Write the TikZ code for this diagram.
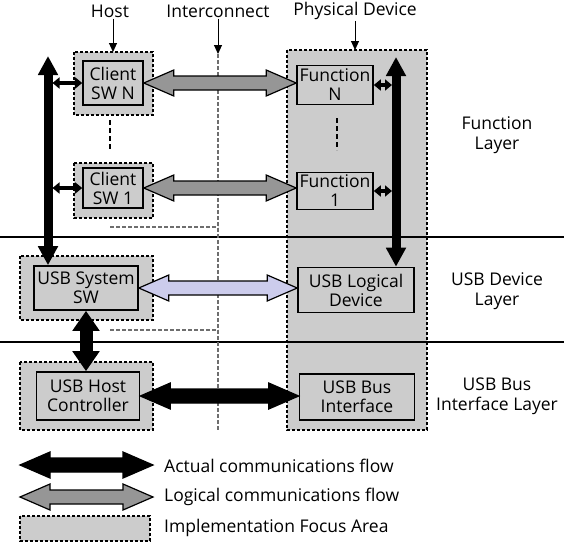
\documentclass[tikz,border=0pt]{standalone}
\usepackage{fontspec}
\setmainfont{Open Sans}
\usetikzlibrary{arrows.meta,calc}

\definecolor{focusgray}{RGB}{204,204,204}
\definecolor{flowgray}{RGB}{150,150,150}
\definecolor{flowlav}{RGB}{204,204,236}
\definecolor{linkgray}{RGB}{110,110,110}

\tikzset{
  focus/.style={draw=black, fill=focusgray, line width=1.4pt, dash pattern=on 3pt off 2pt},
  block/.style={draw=black, fill=focusgray, line width=1.6pt, align=center, inner sep=0pt,
    font=\fontsize{17.5}{19}\selectfont},
  label/.style={align=center, inner sep=1pt, font=\fontsize{17.5}{20}\selectfont},
  hdr/.style={line width=1pt, -{Triangle[length=9pt,width=8pt]}},
  link/.style={draw=linkgray, line width=1.3pt, dash pattern=on 4pt off 2pt},
  dots/.style={line width=1.6pt, dash pattern=on 5pt off 3pt},
  layer/.style={line width=1.2pt},
  bus/.style={line width=9pt, {Triangle[length=19pt,width=19pt]}-{Triangle[length=19pt,width=19pt]}},
  tap/.style={line width=4pt, {Triangle[length=7pt,width=11pt]}-{Triangle[length=7pt,width=11pt]}},
  fatbus/.style={line width=13pt, {Triangle[length=20pt,width=26pt]}-{Triangle[length=20pt,width=26pt]}},
}

% fat double arrow, horizontal, outlined
\newcommand{\flow}[3]{%
  \filldraw[line width=1.2pt, #1] let \p1=(#2), \p2=(#3) in
    (\x1,\y1) -- (\x1+30pt,\y1+13pt) -- (\x1+30pt,\y1+7pt) -- (\x2-30pt,\y1+7pt)
    -- (\x2-30pt,\y1+13pt) -- (\x2,\y1) -- (\x2-30pt,\y1-13pt) -- (\x2-30pt,\y1-7pt)
    -- (\x1+30pt,\y1-7pt) -- (\x1+30pt,\y1-13pt) -- cycle;}

\begin{document}
\begin{tikzpicture}[x=1pt,y=1pt,yscale=-1]
\useasboundingbox (0,0) rectangle (564,544);

% focus areas
\draw[focus] (74,52) rectangle (153,115);
\draw[focus] (74,163) rectangle (153,218);
\draw[focus] (20,256) rectangle (153,320);
\draw[focus] (20,362) rectangle (153,430);
\draw[focus] (287,50) rectangle (427,430);

% layers
\draw[layer] (0,237) -- (564,237);
\draw[layer] (0,342) -- (564,342);

% headers
\node[label] (host) at (110,11) {Host};
\node[label] (icon) at (218,11) {Interconnect};
\node[label] (phys) at (355,11) {Physical Device};
\coordinate (hostin) at (113,52);
\coordinate (icTop) at (218,54);
\coordinate (icBot) at (218,430);
\coordinate (physin) at (355,50);
\draw[hdr] (host.south -| hostin) -- (hostin);
\draw[hdr] (icon.south) -- (icTop);
\draw[hdr] (phys.south) -- (physin);
\draw[link] (icTop) -- (icBot);

% blocks
\node[block, minimum width=60, minimum height=44] (cswN) at (113,83) {Client\\SW N};
\node[block, minimum width=60, minimum height=40] (csw1) at (113,188) {Client\\SW 1};
\node[block, minimum width=104, minimum height=44] (sys) at (86,288) {USB System\\SW};
\node[block, minimum width=103, minimum height=48] (hc) at (88,396) {USB Host\\Controller};
\node[block, minimum width=76, minimum height=39] (fnN) at (335,85) {Function\\N};
\node[block, minimum width=76, minimum height=37] (fn1) at (335,191) {Function\\1};
\node[block, minimum width=116, minimum height=45] (ldev) at (356,290) {USB Logical\\Device};
\node[block, minimum width=115, minimum height=46] (bif) at (357,397) {USB Bus\\Interface};

% layer names
\node[label] (lfun) at (497,135) {Function\\Layer};
\node[label] (ldevl) at (497,291) {USB Device\\Layer};
\node[label] (lbus) at (497,396) {USB Bus\\Interface Layer};

% dashed links
\draw[dots] (110,120) -- (110,150);
\draw[dots] (337,118) -- (337,150);
\coordinate (gapA) at (110,227);
\coordinate (gapB) at (110,330);
\draw[link] (gapA) -- (gapA -| icBot);
\draw[link] (gapB) -- (gapB -| icBot);

% buses
\coordinate (lbusTop) at (48,56);
\coordinate (rbusTop) at (396,57);
\draw[bus] (lbusTop) -- (lbusTop |- sys.north);
\draw[bus] (rbusTop) -- (rbusTop |- ldev.north);
\draw[tap, shorten <=4.5pt] (cswN.west -| lbusTop) -- (cswN.west);
\draw[tap, shorten <=4.5pt] (csw1.west -| lbusTop) -- (csw1.west);
\draw[tap, shorten >=4pt] (fnN.east) -- (fnN.east -| rbusTop);
\draw[tap, shorten >=4pt] (fn1.east) -- (fn1.east -| rbusTop);
\draw[fatbus] (sys.south) -- (sys.south |- hc.north);

% flows
\flow{fill=flowgray}{cswN.east}{fnN.west}
\flow{fill=flowgray}{csw1.east}{fn1.west}
\flow{fill=flowlav}{sys.east}{ldev.west}
\flow{fill=black}{hc.east}{bif.west}

% legend
\coordinate (la) at (20,465);
\coordinate (lb) at (153,465);
\coordinate (lc) at (20,497);
\coordinate (ld) at (153,497);
\flow{fill=black}{la}{lb}
\flow{fill=flowgray}{lc}{ld}
\draw[focus] (20,516) rectangle (150,541);
\node[label, anchor=west] (tact) at (163,466) {Actual communications flow};
\node[label, anchor=west] (tlog) at (163,497) {Logical communications flow};
\node[label, anchor=west] (tfoc) at (163,528) {Implementation Focus Area};
\end{tikzpicture}
\end{document}
